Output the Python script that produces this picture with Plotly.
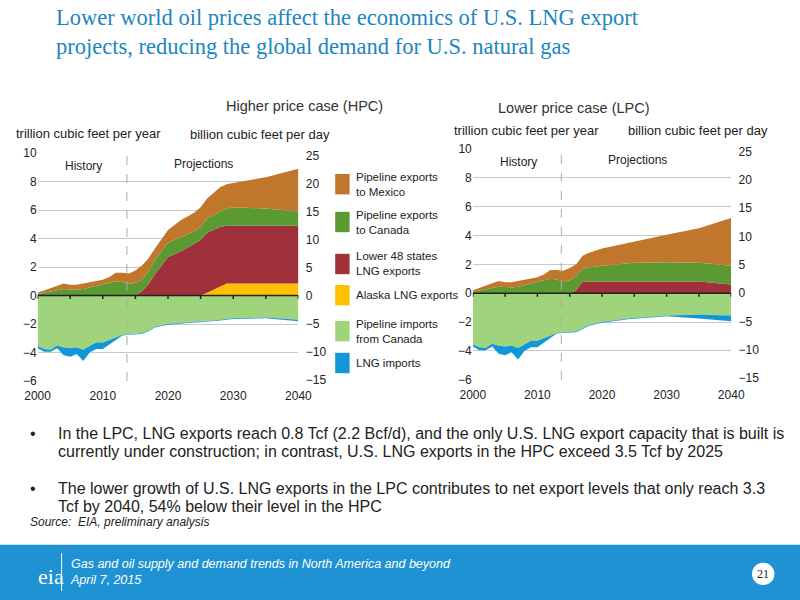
import plotly.graph_objects as go

years = [2000,2001,2002,2003,2004,2005,2006,2007,2008,2009,2010,2011,2012,2013,2014,2015,2016,2017,2018,2020,2022,2024,2025,2026,2028,2029,2030,2035,2040]

hist_canada = [.1,.18,.25,.35,.45,.42,.4,.45,.55,.65,.75,.9,1.0,.95,.8,.9]
hist_mexico = [.2,.35,.5,.65,.85,.75,.75,.85,.95,1.05,1.1,1.3,1.6,1.6,1.55,1.75]
hist_pipe = [-3.55,-3.75,-3.8,-3.5,-3.65,-3.7,-3.65,-3.8,-3.55,-3.3,-3.3,-3.15,-2.95,-2.75,-2.7,-2.7]
hist_total = [-3.7,-3.95,-3.95,-3.7,-4.2,-4.3,-4.1,-4.6,-4.0,-3.75,-3.75,-3.45,-3.1,-2.8,-2.75,-2.72]
z16 = [0]*16

# cumulative boundaries (tcf/yr)
hpc_alaska = z16 + [0,0,0,0,0,0,0,0.2,0.6,0.85,0.85,0.85,0.85]
hpc_l48 = z16 + [0.3,0.8,1.5,2.7,3.1,3.6,3.9,4.4,4.8,4.9,4.9,4.9,4.9]
hpc_canada = hist_canada + [1.1,1.7,2.5,3.7,4.1,4.5,4.8,5.4,5.9,6.1,6.2,6.1,5.9]
hpc_mexico = hist_mexico + [2.1,2.6,3.3,4.6,5.3,5.8,6.2,6.8,7.6,7.8,7.9,8.3,8.9]
hpc_pipe = hist_pipe + [-2.65,-2.45,-2.2,-2.0,-1.9,-1.85,-1.82,-1.8,-1.7,-1.65,-1.6,-1.55,-1.7]
hpc_total = hist_total + [-2.7,-2.5,-2.25,-2.05,-1.95,-1.9,-1.88,-1.85,-1.75,-1.7,-1.65,-1.6,-1.8]

lpc_alaska = [0]*29
lpc_l48 = z16 + [0.2,0.8,0.8,0.8,0.8,0.8,0.8,0.8,0.8,0.8,0.8,0.8,0.6]
lpc_canada = hist_canada + [1.2,1.7,1.8,1.9,2.0,2.1,2.1,2.1,2.15,2.15,2.15,2.1,1.9]
lpc_mexico = hist_mexico + [2.0,2.6,2.8,3.1,3.3,3.5,3.55,3.65,3.85,3.95,4.05,4.5,5.2]
lpc_pipe = hist_pipe + [-2.65,-2.45,-2.2,-2.0,-1.85,-1.75,-1.72,-1.7,-1.62,-1.58,-1.55,-1.5,-1.55]
lpc_total = hist_total + [-2.7,-2.5,-2.25,-2.05,-1.9,-1.8,-1.78,-1.75,-1.68,-1.64,-1.6,-1.75,-1.95]

series_names = ["Pipeline exports<br>to Mexico","Pipeline exports<br>to Canada","Lower 48 states<br>LNG exports","Alaska LNG exports","Pipeline imports<br>from Canada","LNG imports"]
colors = ["#c0772c","#5b9a32","#a0303a","#ffc000","#9fd37c","#1196d8"]
C_MEX, C_CAN, C_L48, C_AK, C_PIPE, C_LNGI = colors

fig = go.Figure()

def add_panel(xa, ya, ak, l48, can, mex, pipe, tot):
    kw = dict(x=years, mode="lines", line=dict(width=0), xaxis=xa, yaxis=ya, showlegend=False, hoverinfo="skip")
    fig.add_trace(go.Scatter(y=ak, fill="tozeroy", fillcolor=C_AK, **kw))
    fig.add_trace(go.Scatter(y=l48, fill="tonexty", fillcolor=C_L48, **kw))
    fig.add_trace(go.Scatter(y=can, fill="tonexty", fillcolor=C_CAN, **kw))
    fig.add_trace(go.Scatter(y=mex, fill="tonexty", fillcolor=C_MEX, **kw))
    fig.add_trace(go.Scatter(y=pipe, fill="tozeroy", fillcolor=C_PIPE, **kw))
    fig.add_trace(go.Scatter(y=tot, fill="tonexty", fillcolor=C_LNGI, **kw))

add_panel("x", "y", hpc_alaska, hpc_l48, hpc_canada, hpc_mexico, hpc_pipe, hpc_total)
add_panel("x2", "y3", lpc_alaska, lpc_l48, lpc_canada, lpc_mexico, lpc_pipe, lpc_total)
fig.add_trace(go.Scatter(x=[2000], y=[0], xaxis="x", yaxis="y2", mode="markers", marker=dict(opacity=0), showlegend=False, hoverinfo="skip"))
fig.add_trace(go.Scatter(x=[2000], y=[0], xaxis="x2", yaxis="y4", mode="markers", marker=dict(opacity=0), showlegend=False, hoverinfo="skip"))

font = dict(family="Liberation Sans, Arial", size=12, color="#222")
ufont = dict(family="Liberation Sans, Arial", size=13, color="#222")
xcommon = dict(range=[2000, 2040], tickvals=[2000,2010,2020,2030,2040], showgrid=False, zeroline=False,
               ticks="outside", ticklen=4, tickcolor="rgba(0,0,0,0)", tickfont=font, showline=False, automargin=False)
ycommon = dict(range=[-6, 10], tickvals=[-6,-4,-2,0,2,4,6,8,10],
               showgrid=True, gridcolor="#c8c8c8", gridwidth=1, zeroline=False, tickfont=font, ticks="", automargin=False)
y2kw = dict(range=[-15.3,25.5], tickvals=[-15,-10,-5,0,5,10,15,20,25], showgrid=False,
            zeroline=False, tickfont=font, side="right", automargin=False, ticks="outside", ticklen=4, tickcolor="rgba(0,0,0,0)")

L = [0.047, 0.373]
R = [0.591, 0.914]
fig.update_layout(
    width=800, height=600, paper_bgcolor="white", plot_bgcolor="white",
    margin=dict(l=0, r=0, t=0, b=0),
    xaxis=dict(domain=L, anchor="y", **xcommon),
    yaxis=dict(domain=[0.365, 0.745], anchor="x", **ycommon),
    yaxis2=dict(anchor="x", overlaying="y", **y2kw),
    xaxis2=dict(domain=R, anchor="y3", **xcommon),
    yaxis3=dict(domain=[0.367, 0.752], anchor="x2", **ycommon),
    yaxis4=dict(anchor="x2", overlaying="y3", **y2kw),
)

shapes = []
anns = []
for xa, ya in [("x", "y"), ("x2", "y3")]:
    shapes.append(dict(type="line", xref=xa, yref=ya, x0=2000, x1=2040, y0=0, y1=0, line=dict(color="#222", width=1.5)))
    for t in range(2000, 2041, 5):
        shapes.append(dict(type="line", xref=xa, yref=ya, x0=t, x1=t, y0=0, y1=-0.25, line=dict(color="#222", width=1.5)))
    shapes.append(dict(type="line", xref=xa, yref=ya, x0=2013.7, x1=2013.7, y0=-6, y1=10, line=dict(color="#aaa", width=1, dash="dash")))
    anns.append(dict(xref=xa, yref=ya, x=2007, y=9.1, text="History", showarrow=False, font=font))
    anns.append(dict(xref=xa, yref=ya, x=2025.5, y=9.2, text="Projections", showarrow=False, font=font))

tfont = dict(family="Liberation Sans", size=14.5, color="#333")
anns += [
    dict(xref="paper", yref="paper", x=0.28, y=0.84, text="Higher price case (HPC)", showarrow=False, font=tfont),
    dict(xref="paper", yref="paper", x=0.815, y=0.837, text="Lower price case (LPC)", showarrow=False, font=tfont),
    dict(xref="paper", yref="paper", x=0.018, y=0.794, xanchor="left", text="trillion cubic feet per year", showarrow=False, font=ufont),
    dict(xref="paper", yref="paper", x=0.235, y=0.792, xanchor="left", text="billion cubic feet per day", showarrow=False, font=ufont),
    dict(xref="paper", yref="paper", x=0.565, y=0.798, xanchor="left", text="trillion cubic feet per year", showarrow=False, font=ufont),
    dict(xref="paper", yref="paper", x=0.782, y=0.798, xanchor="left", text="billion cubic feet per day", showarrow=False, font=ufont),
]

leg_y = [0.693, 0.63, 0.56, 0.508, 0.448, 0.395]
for name, col, yy in zip(series_names, colors, leg_y):
    shapes.append(dict(type="rect", xref="paper", yref="paper", x0=0.419, x1=0.437, y0=yy-0.017, y1=yy+0.017, fillcolor=col, line=dict(width=0)))
    anns.append(dict(xref="paper", yref="paper", x=0.443, y=yy, xanchor="left", yanchor="middle", align="left", text=name,
                     showarrow=False, font=dict(family="Liberation Sans", size=11.5, color="#222")))

anns.append(dict(xref="paper", yref="paper", x=0.068, y=0.995, xanchor="left", yanchor="top", align="left",
                 text="Lower world oil prices affect the economics of U.S. LNG export<br>projects, reducing the global demand for U.S. natural gas",
                 showarrow=False, font=dict(family="Liberation Serif, Times New Roman", size=22.5, color="#1b86c0")))
bfont = dict(family="Liberation Sans", size=16, color="#222")
bullet_lines = [
    ("•", 0.035, 433), ("In the LPC, LNG exports reach 0.8 Tcf (2.2 Bcf/d), and the only U.S. LNG export capacity that is built is", 0.07, 433),
    ("currently under construction; in contrast, U.S. LNG exports in the HPC exceed 3.5 Tcf by 2025", 0.07, 451),
    ("•", 0.035, 488), ("The lower growth of U.S. LNG exports in the LPC contributes to net export levels that only reach 3.3", 0.07, 488),
    ("Tcf by 2040, 54% below their level in the HPC", 0.07, 506),
]
for txt, xx, py in bullet_lines:
    anns.append(dict(xref="paper", yref="paper", x=xx, y=1 - py/600, xanchor="left", yanchor="middle", text=txt,
                     showarrow=False, font=bfont))
anns.append(dict(xref="paper", yref="paper", x=0.035, y=1 - 522/600, xanchor="left", yanchor="middle",
                 text="<i>Source:  EIA, preliminary analysis</i>", showarrow=False, font=dict(family="Liberation Sans", size=12, color="#222")))
shapes.append(dict(type="rect", xref="paper", yref="paper", x0=0, x1=1, y0=0, y1=0.092, fillcolor="#1e92d3", line=dict(width=0), layer="below"))
shapes.append(dict(type="line", xref="paper", yref="paper", x0=0.077, x1=0.077, y0=0.015, y1=0.078, line=dict(color="white", width=1)))
anns.append(dict(xref="paper", yref="paper", x=0.045, y=0.04, yanchor="middle", text="eia", showarrow=False,
                 font=dict(family="Liberation Serif", size=22, color="white")))
anns.append(dict(xref="paper", yref="paper", x=0.085, y=0.047, xanchor="left", yanchor="middle", align="left",
                 text="<i>Gas and oil supply and demand trends in North America and beyond<br>April 7, 2015</i>",
                 showarrow=False, font=dict(family="Liberation Sans", size=12.5, color="white")))
shapes.append(dict(type="circle", xref="paper", yref="paper", x0=0.94, x1=0.968, y0=0.025, y1=0.062, fillcolor="white", line=dict(width=0)))
anns.append(dict(xref="paper", yref="paper", x=0.954, y=0.0435, xanchor="center", yanchor="middle", text="21", showarrow=False,
                 font=dict(family="Liberation Serif", size=12, color="#222")))

fig.update_layout(shapes=shapes, annotations=anns)
fig.write_html("out.html", config={"displayModeBar": False})
with open("out.html", encoding="utf-8") as f:
    html = f.read()
html = html.replace("<head>", "<head><style>html,body{margin:0;padding:0;overflow:hidden;}</style>", 1)
with open("out.html", "w", encoding="utf-8") as f:
    f.write(html)
